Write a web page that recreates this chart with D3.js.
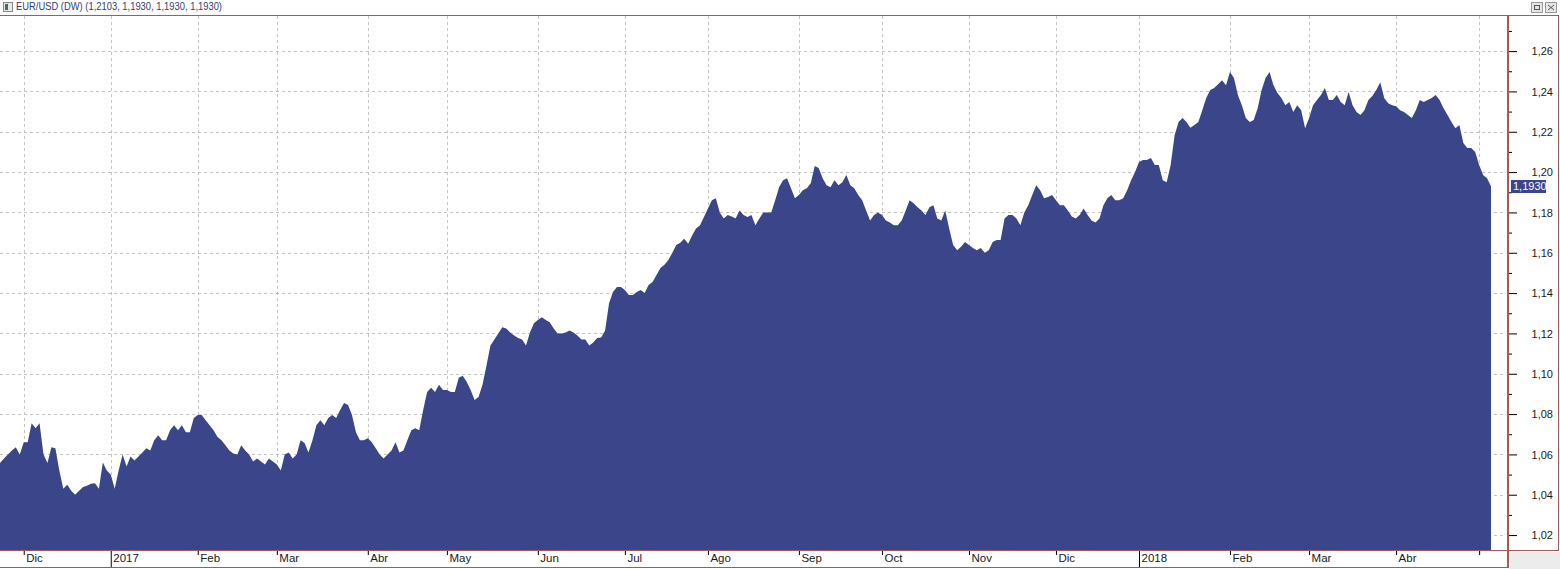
<!DOCTYPE html>
<html><head><meta charset="utf-8">
<script src="https://cdn.jsdelivr.net/npm/d3@7"></script>
<style>
html,body{margin:0;padding:0;background:#fff;}
svg{display:block;font-family:"Liberation Sans",Arial,sans-serif;}
</style></head>
<body><svg id="c" width="1560" height="569"></svg>
<script>
// ---- data ----
const startDate = "2016-11-23";
const endDate = "2018-05-04";
const closes = [
// Nov 2016
1.0557,1.058,1.060,1.062,1.0636,1.060,
// Dec 2016
1.066,1.066,1.0755,1.073,1.0755,1.060,1.0557,1.0635,1.063,1.052,1.043,1.045,1.042,1.040,1.042,1.0438,1.0445,1.0455,1.0457,1.043,1.056,1.052,
// Jan 2017
1.050,1.043,1.052,1.060,1.054,1.059,1.057,1.059,1.061,1.063,1.062,1.067,1.0695,1.067,1.067,1.072,1.0745,1.072,1.0745,1.071,1.071,1.078,
// Feb 2017
1.0795,1.0795,1.077,1.0745,1.072,1.0686,1.067,1.0645,1.062,1.0605,1.060,1.0645,1.062,1.060,1.0565,1.058,1.0565,1.055,1.058,1.0565,
// Mar 2017
1.055,1.052,1.060,1.061,1.058,1.060,1.067,1.0656,1.061,1.067,1.0745,1.077,1.0745,1.078,1.0795,1.078,1.082,1.0855,1.0845,1.0795,1.071,1.067,1.067,
// Apr 2017
1.068,1.066,1.063,1.060,1.058,1.060,1.062,1.066,1.061,1.062,1.067,1.072,1.073,1.072,1.082,1.091,1.093,1.091,1.0945,1.092,
// May 2017
1.092,1.091,1.091,1.098,1.099,1.096,1.092,1.087,1.0885,1.0945,1.104,1.114,1.117,1.120,1.123,1.1225,1.1205,1.119,1.1177,1.117,1.114,1.1205,1.125,
// Jun 2017
1.1266,1.128,1.1266,1.1256,1.1225,1.120,1.120,1.1205,1.1215,1.1205,1.119,1.117,1.117,1.114,1.1155,1.1177,1.118,1.1215,1.135,1.1405,1.143,1.143,
// Jul 2017
1.1415,1.139,1.139,1.1405,1.1415,1.140,1.144,1.1455,1.149,1.1525,1.154,1.1564,1.160,1.1638,1.165,1.167,1.1645,1.1685,1.172,1.1737,1.1777,
// Aug 2017
1.182,1.186,1.187,1.180,1.177,1.1787,1.178,1.177,1.181,1.1787,1.1777,1.1787,1.1737,1.177,1.180,1.180,1.180,1.186,1.1925,1.196,1.197,1.192,1.187,
// Sep 2017
1.1886,1.191,1.192,1.1945,1.203,1.202,1.197,1.1935,1.1925,1.196,1.1935,1.195,1.1985,1.1935,1.192,1.1886,1.186,1.181,1.176,1.1787,1.180,
// Oct 2017
1.1787,1.176,1.175,1.1737,1.1737,1.176,1.181,1.186,1.1846,1.1826,1.181,1.1787,1.1826,1.1836,1.177,1.176,1.181,1.172,1.1638,1.1613,1.163,1.1653,
// Nov 2017
1.1638,1.1623,1.1613,1.1623,1.160,1.1613,1.1653,1.1663,1.1663,1.177,1.1787,1.1787,1.177,1.1737,1.180,1.1836,1.1886,1.1935,1.191,1.187,1.1876,1.1886,
// Dec 2017
1.186,1.1836,1.1836,1.181,1.178,1.177,1.1787,1.182,1.1787,1.176,1.175,1.177,1.1836,1.187,1.1886,1.186,1.186,1.187,1.191,1.196,1.200,
// Jan 2018
1.205,1.206,1.206,1.207,1.2035,1.2035,1.196,1.195,1.2035,1.2183,1.2248,1.2268,1.2248,1.222,1.2233,1.2248,1.2307,1.2367,1.2407,1.2417,1.2436,1.2456,1.2431,
// Feb 2018
1.2496,1.2466,1.2382,1.2332,1.2268,1.2248,1.2258,1.2317,1.2407,1.2466,1.2496,1.2431,1.2392,1.2367,1.2332,1.2347,1.2298,1.2332,1.2307,1.2218,
// Mar 2018
1.2268,1.2332,1.2357,1.2382,1.2417,1.2357,1.2357,1.2382,1.2347,1.2332,1.2397,1.2332,1.2298,1.2283,1.2307,1.2357,1.2377,1.2407,1.2446,1.2367,1.2342,1.2332,
// Apr 2018
1.2327,1.2307,1.2298,1.2283,1.2268,1.2307,1.2357,1.2347,1.2357,1.2367,1.2382,1.2357,1.2317,1.2283,1.2248,1.2218,1.2233,1.2144,1.2119,1.2119,1.210,
// May 2018
1.2035,1.1985,1.197,1.1930
];
const monthLabels = ["Dic","2017","Feb","Mar","Abr","May","Jun","Jul","Ago","Sep","Oct","Nov","Dic","2018","Feb","Mar","Abr",""];
const yTicks = [1.02,1.04,1.06,1.08,1.10,1.12,1.14,1.16,1.18,1.20,1.22,1.24,1.26];
const yMinorTicks = [1.03,1.05,1.07,1.09,1.11,1.13,1.15,1.17,1.19,1.21,1.23,1.25,1.27];
const titleText = "EUR/USD (DW) (1,2103, 1,1930, 1,1930, 1,1930)";
const lastLabel = "1,1930";

// ---- build trading days ----
const parse = d3.timeParse("%Y-%m-%d");
const days = d3.timeDay.range(parse(startDate), d3.timeDay.offset(parse(endDate),1))
  .filter(d => d.getDay() !== 0 && d.getDay() !== 6);
const data = days.map((d,i) => ({date:d, i, v: closes[i]})).filter(d => d.v !== undefined);

const monthStarts = [];
for (let i = 1; i < days.length; i++) {
  if (days[i].getMonth() !== days[i-1].getMonth()) monthStarts.push(i);
}

// ---- layout ----
const plotL = 0, plotR = 1507, plotT = 15, plotB = 550;
const border = "#a25a5a";
const fill = "#3b4589";

const svg = d3.select("#c");

const x = d3.scaleLinear().domain([0, days.length - 1]).range([0, 1491]);
const y = d3.scaleLinear().domain([1.0126, 1.2779]).range([plotB, plotT]);
const fmt = v => d3.format(".2f")(v).replace(".", ",");

svg.append("rect").attr("x",1510).attr("y",552).attr("width",50).attr("height",17).attr("fill","#ececec");

// grid
const grid = svg.append("g");
grid.selectAll("line.h").data(yTicks).join("line")
  .attr("x1", plotL).attr("x2", plotR - 1)
  .attr("y1", d => Math.round(y(d)) + 0.5).attr("y2", d => Math.round(y(d)) + 0.5)
  .attr("stroke", "#c4c4c4").attr("stroke-dasharray", "3,3");
grid.selectAll("line.v").data(monthStarts).join("line")
  .attr("y1", plotT + 1).attr("y2", plotB)
  .attr("x1", d => Math.round(x(d)) + 0.5).attr("x2", d => Math.round(x(d)) + 0.5)
  .attr("stroke", "#c4c4c4").attr("stroke-dasharray", "3,3");

// area
const area = d3.area().x(d => x(d.i)).y0(plotB).y1(d => y(d.v));
svg.append("path").datum(data).attr("d", area).attr("fill", fill);

// frame lines
svg.append("line").attr("x1",0).attr("x2",1559).attr("y1",15.5).attr("y2",15.5).attr("stroke",border);
svg.append("line").attr("x1",1508).attr("x2",1508).attr("y1",15).attr("y2",568).attr("stroke",border).attr("stroke-width",2);
svg.append("line").attr("x1",1558.5).attr("x2",1558.5).attr("y1",15).attr("y2",551).attr("stroke",border);
svg.append("line").attr("x1",0).attr("x2",1559).attr("y1",550.5).attr("y2",550.5).attr("stroke",border);
svg.append("line").attr("x1",0).attr("x2",1509).attr("y1",567.5).attr("y2",567.5).attr("stroke",border);

// right axis
const yAxis = d3.axisRight(y).tickValues(yTicks).tickSize(8).tickPadding(14).tickFormat(fmt);
const ya = svg.append("g").attr("transform","translate(1509,0)").call(yAxis);
ya.select(".domain").remove();
ya.selectAll("text").attr("text-anchor","end").attr("x",44).attr("dy","0.35em")
  .attr("font-size","11px").attr("fill","#1a1a1a").attr("font-family","'Liberation Sans',Arial,sans-serif");
ya.selectAll("line").attr("stroke","#000");
const yMinor = d3.axisRight(y).tickValues(yMinorTicks.filter(v => y(v) > plotT + 2)).tickSize(3).tickFormat("");
const ym = svg.append("g").attr("transform","translate(1509,0)").call(yMinor);
ym.select(".domain").remove();
ym.selectAll("line").attr("stroke","#000");

// last price label
const lastV = data[data.length-1].v;
const lg = svg.append("g").attr("transform", `translate(1511,${Math.round(y(lastV))})`);
lg.append("rect").attr("x",0).attr("y",-6).attr("width",35).attr("height",13).attr("fill",fill);
lg.append("text").attr("x",2).attr("y",4).attr("fill","#fff").attr("font-size","11px").text(lastLabel);

// bottom axis
const xAxis = d3.axisBottom(x).tickValues(monthStarts).tickSize(4).tickFormat((d,i) => monthLabels[i]);
const xa = svg.append("g").attr("transform",`translate(0,${plotB+1})`).call(xAxis);
xa.select(".domain").remove();
xa.selectAll(".tick line").attr("stroke","#000")
  .attr("y2", (d,i) => (monthLabels[i] === "2017" || monthLabels[i] === "2018") ? 16 : 4);
xa.selectAll(".tick text").attr("text-anchor","start").attr("x",2).attr("y",3).attr("dy","0.71em")
  .attr("font-size","11.5px").attr("fill","#1a1a1a").attr("font-family","'Liberation Sans',Arial,sans-serif");

// title bar
const tb = svg.append("g");
tb.append("rect").attr("x",3.5).attr("y",2.5).attr("width",9).attr("height",9).attr("fill","#e8e8e8").attr("stroke","#8a8a8a");
tb.append("rect").attr("x",5).attr("y",4).attr("width",3).attr("height",6).attr("fill","#3f6f5f");
tb.append("text").attr("x",16).attr("y",10).attr("font-size","11px").attr("fill","#34406e")
  .attr("textLength",206).attr("lengthAdjust","spacingAndGlyphs").text(titleText);

// window buttons
function btn(x0, kind){
  const g = svg.append("g").attr("transform",`translate(${x0},2)`);
  g.append("rect").attr("x",0.5).attr("y",0.5).attr("width",11).attr("height",10).attr("fill","#e6e6e6").attr("stroke","#9a9a9a");
  if (kind === "r") g.append("rect").attr("x",3.5).attr("y",3.5).attr("width",5).attr("height",4).attr("fill","none").attr("stroke","#555");
  else { g.append("path").attr("d","M3,3L9,8M9,3L3,8").attr("stroke","#555"); }
}
btn(1531,"r"); btn(1545,"x");
</script></body></html>
